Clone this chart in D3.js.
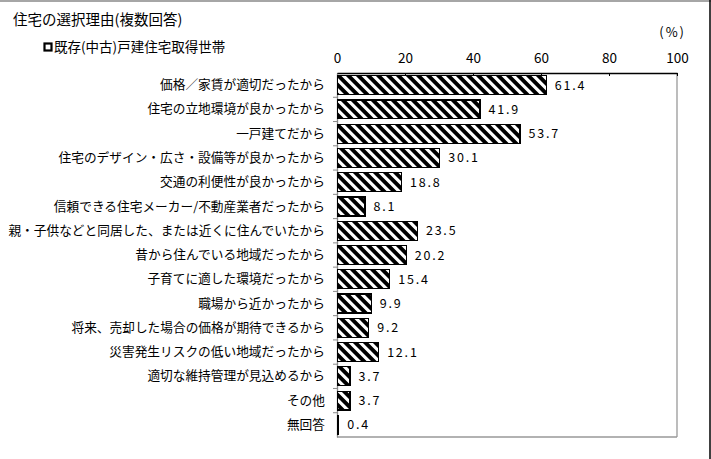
<!DOCTYPE html>
<html><head><meta charset="utf-8">
<script src="https://cdn.jsdelivr.net/npm/d3@7"></script>
<style>
body{margin:0;background:#fff;}
svg{display:block;}
text{font-family:"Noto Sans CJK JP","Noto Sans",sans-serif;fill:#000;font-weight:400;}
</style></head>
<body>
<svg id="c" width="711" height="459"></svg>
<script>
const title = "住宅の選択理由(複数回答)";
const seriesName = "既存(中古)戸建住宅取得世帯";
const unitLabel = "(%)";
const categories = [
  "価格／家賃が適切だったから",
  "住宅の立地環境が良かったから",
  "一戸建てだから",
  "住宅のデザイン・広さ・設備等が良かったから",
  "交通の利便性が良かったから",
  "信頼できる住宅メーカー/不動産業者だったから",
  "親・子供などと同居した、または近くに住んでいたから",
  "昔から住んでいる地域だったから",
  "子育てに適した環境だったから",
  "職場から近かったから",
  "将来、売却した場合の価格が期待できるから",
  "災害発生リスクの低い地域だったから",
  "適切な維持管理が見込めるから",
  "その他",
  "無回答"
];
const values = [61.4, 41.9, 53.7, 30.1, 18.8, 8.1, 23.5, 20.2, 15.4, 9.9, 9.2, 12.1, 3.7, 3.7, 0.4];
const tickValues = [0, 20, 40, 60, 80, 100];

const svg = d3.select("#c");
const defs = svg.append("defs");
const pat = defs.append("pattern").attr("id","diag").attr("patternUnits","userSpaceOnUse")
  .attr("width",10).attr("height",10);
pat.append("rect").attr("width",10).attr("height",10).attr("fill","#fff");
pat.append("path").attr("d","M0,0L5.5,0L10,4.5L10,10Z M0,4.5L5.5,10L0,10Z").attr("fill","#000");

// outer frame pieces
svg.append("line").attr("x1",0).attr("x2",711).attr("y1",1).attr("y2",1).attr("stroke","#888").attr("stroke-width",1.5);
svg.append("line").attr("x1",710).attr("x2",710).attr("y1",0).attr("y2",459).attr("stroke","#000").attr("stroke-width",1.5);

const x = d3.scaleLinear().domain([0,100]).range([337,677]);
const y = d3.scaleBand().domain(categories).range([73,437]).paddingInner(0.22).paddingOuter(0.11);

// plot frame (right & bottom gray)
svg.append("line").attr("x1",x(100)).attr("x2",x(100)).attr("y1",73).attr("y2",437).attr("stroke","#999").attr("stroke-width",1.3);
svg.append("line").attr("x1",x(0)).attr("x2",x(100)).attr("y1",437).attr("y2",437).attr("stroke","#999").attr("stroke-width",1.3);

// top axis
const gx = svg.append("g").attr("transform","translate(0,73)")
  .call(d3.axisTop(x).tickValues(tickValues).tickSizeInner(-3).tickSizeOuter(0).tickPadding(10));
gx.select(".domain").attr("stroke","#000").attr("stroke-width",1.3);
gx.selectAll(".tick line").attr("stroke","#000");
gx.selectAll(".tick text").attr("font-size",13.5).attr("font-family","'Noto Sans CJK JP'").attr("fill","#000");

// left axis
const gy = svg.append("g").attr("transform",`translate(${x(0)},0)`)
  .call(d3.axisLeft(y).tickSize(0).tickPadding(12));
gy.select(".domain").attr("stroke","#888").attr("stroke-width",1.3);
gy.selectAll(".tick text").attr("font-size",12.7).attr("font-family","'Noto Sans CJK JP'").attr("fill","#000");
const step = y.step();
svg.append("g").selectAll("line").data(categories.slice(1)).join("line")
  .attr("x1",x(0)-4).attr("x2",x(0))
  .attr("y1",d=>y(d)-step*y.paddingInner()/2).attr("y2",d=>y(d)-step*y.paddingInner()/2)
  .attr("stroke","#888");

// bars
svg.append("g").selectAll("rect").data(values).join("rect")
  .attr("x",x(0)+0.5)
  .attr("y",(d,i)=>y(categories[i]))
  .attr("width",d=>x(d)-x(0))
  .attr("height",y.bandwidth())
  .attr("fill","url(#diag)")
  .attr("stroke","#000").attr("stroke-width",1.2)
  .attr("shape-rendering","crispEdges");

// value labels
svg.append("g").selectAll("text").data(values).join("text")
  .attr("x",d=>x(d)+9)
  .attr("y",(d,i)=>y(categories[i])+y.bandwidth()/2)
  .attr("dy","0.36em")
  .attr("font-size",12.5)
  .attr("letter-spacing","1.8px")
  .text(d=>d.toFixed(1));

// titles
svg.append("text").attr("x",13).attr("y",25).attr("font-size",14.5).text(title);
svg.append("rect").attr("x",44.5).attr("y",43.5).attr("width",7).attr("height",7)
  .attr("fill","#fff").attr("stroke","#000").attr("stroke-width",2.2);
svg.append("text").attr("x",54).attr("y",52).attr("font-size",13.5).text(seriesName);
svg.append("text").attr("x",686).attr("y",37).attr("text-anchor","end").attr("font-size",13)
  .attr("letter-spacing","2px").text(unitLabel);
</script>
</body></html>
